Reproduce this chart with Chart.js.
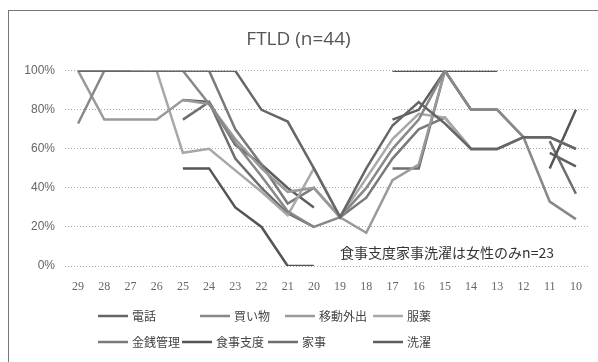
<!DOCTYPE html>
<html>
<head>
<meta charset="utf-8">
<script src="https://cdn.jsdelivr.net/npm/chart.js@4/dist/chart.umd.min.js"></script>
<style>
  html, body { margin: 0; padding: 0; background: #fff; }
  #wrap { position: relative; width: 598px; height: 362px; overflow: hidden; }
  #frame { position: absolute; left: 8px; top: 10px; width: 620px; height: 380px; border: 1px solid #777; box-sizing: border-box; pointer-events: none; }
  canvas { position: absolute; left: 0; top: 0; }
</style>
</head>
<body>
<div id="wrap">
  <canvas id="c" width="598" height="362"></canvas>
  <div id="frame"></div>
</div>
<script>
// MMSE score categories, highest to lowest
const mmse = ['29','28','27','26','25','24','23','22','21','20','19','18','17','16','15','14','13','12','11','10'];

// Percentage of patients still performing each activity (null = no patients at that score)
const phone      = [100,100,100,100,100,100,100, 80, 74, 50, 25, 50, 72, 84, 73, 60, 60, 66, 66, 60];
const shopping   = [ 73,100,100,100,100, 83, 63, 46, 28, 20, 25, 40, 60, 75,100, 80, 80, 66, 33, 24];
const transport  = [100, 75, 75, 75, 85, 83, 65, 50, 38, 40, 25, 17, 44, 52,100, 80, 80, 66, 66, 60];
const medication = [100,100,100,100, 58, 60, 49, 38, 26, 50, 25, 45, 65, 78, 76, 60, 60, 66, 66, 60];
const finance    = [100,100,100,100,100,100, 70, 52, 32, 40, 25, 35, 55, 70, 76, 60, 60, 66, 66, 60];
const cooking    = [100,100,100,null, 50, 50, 30, 20,  0,  0,null,null,100,100,100,100,100,null, 50, 80];
const housework  = [100,100,100,null, 75, 84, 55, 40, 27, 20,null,null, 50, 50,100, 80, 80,null, 64, 37];
const laundry    = [100,100,100,null, 85, 84, 62, 52, 40, 30,null,null, 75, 80,100, 80, 80,null, 58, 51];

const yTicks = [0, 20, 40, 60, 80, 100];

const names  = ['電話','買い物','移動外出','服薬','金銭管理','食事支度','家事','洗濯'];
const values = [phone, shopping, transport, medication, finance, cooking, housework, laundry];
const colors = ['#666666','#888888','#9a9a9a','#a8a8a8','#7a7a7a','#555555','#6e6e6e','#5e5e5e'];

const note = '食事支度家事洗濯は女性のみn=23';

// Two-row legend laid out in columns
const legendRows = [[0,1,2,3],[4,5,6,7]];
const legendCols = [[98,200,285,373],[98,182,268,373]];
const legendY = [316, 342];

const gridLegend = {
  id: 'gridLegend',
  afterDraw(chart) {
    const ctx = chart.ctx;
    ctx.save();
    ctx.font = '12px "Noto Sans CJK JP"';
    ctx.textBaseline = 'middle';
    ctx.textAlign = 'left';
    legendRows.forEach((row, r) => {
      row.forEach((di, c) => {
        const ds = chart.data.datasets[di];
        const x = legendCols[r][c], y = legendY[r];
        ctx.strokeStyle = ds.borderColor;
        ctx.lineWidth = 2.5;
        ctx.beginPath();
        ctx.moveTo(x, y);
        ctx.lineTo(x + 30, y);
        ctx.stroke();
        ctx.fillStyle = '#444';
        ctx.fillText(ds.label, x + 34, y);
      });
    });
    ctx.restore();
  }
};

// Footnote placed inside the plot, near the bottom-right
const noteText = {
  id: 'noteText',
  afterDatasetsDraw(chart) {
    const ctx = chart.ctx;
    const xs = chart.scales.x, ys = chart.scales.y;
    ctx.save();
    ctx.font = '14px "Noto Sans CJK JP"';
    ctx.fillStyle = '#333';
    ctx.textBaseline = 'middle';
    ctx.textAlign = 'left';
    ctx.fillText(note, xs.getPixelForValue(mmse.indexOf('19')), ys.getPixelForValue(7));
    ctx.restore();
  }
};

new Chart(document.getElementById('c'), {
  type: 'line',
  data: {
    labels: mmse,
    datasets: names.map((n, i) => ({
      label: n,
      data: values[i],
      borderColor: colors[i],
      backgroundColor: colors[i],
      borderWidth: 2.5,
      pointRadius: 0,
      tension: 0,
      spanGaps: false
    }))
  },
  options: {
    responsive: false,
    animation: false,
    layout: { padding: { left: 8, right: 9, top: 28, bottom: 66 } },
    plugins: {
      legend: { display: false },
      tooltip: { enabled: false },
      title: {
        display: true,
        text: 'FTLD (n=44)',
        color: '#555',
        font: { family: 'Open Sans', size: 19, weight: 'normal' },
        padding: { top: 0, bottom: 20 }
      }
    },
    scales: {
      x: {
        offset: true,
        grid: { display: false },
        border: { display: false },
        ticks: { color: '#666', font: { family: 'Liberation Serif', size: 12 }, padding: 6, maxRotation: 0, autoSkip: false },
        afterFit(s) { s.height = 30; }
      },
      y: {
        min: 0, max: 100,
        afterBuildTicks(s) { s.ticks = yTicks.map(v => ({ value: v })); },
        ticks: { color: '#666', font: { family: 'Liberation Sans', size: 12 }, padding: 10, callback: v => v + '%' },
        grid: { color: '#a8a8a8', drawTicks: false, lineWidth: 1 },
        border: { display: false, dash: [1, 2] },
        afterFit(s) { s.width = 57; }
      }
    }
  },
  plugins: [gridLegend, noteText]
});
</script>
</body>
</html>
